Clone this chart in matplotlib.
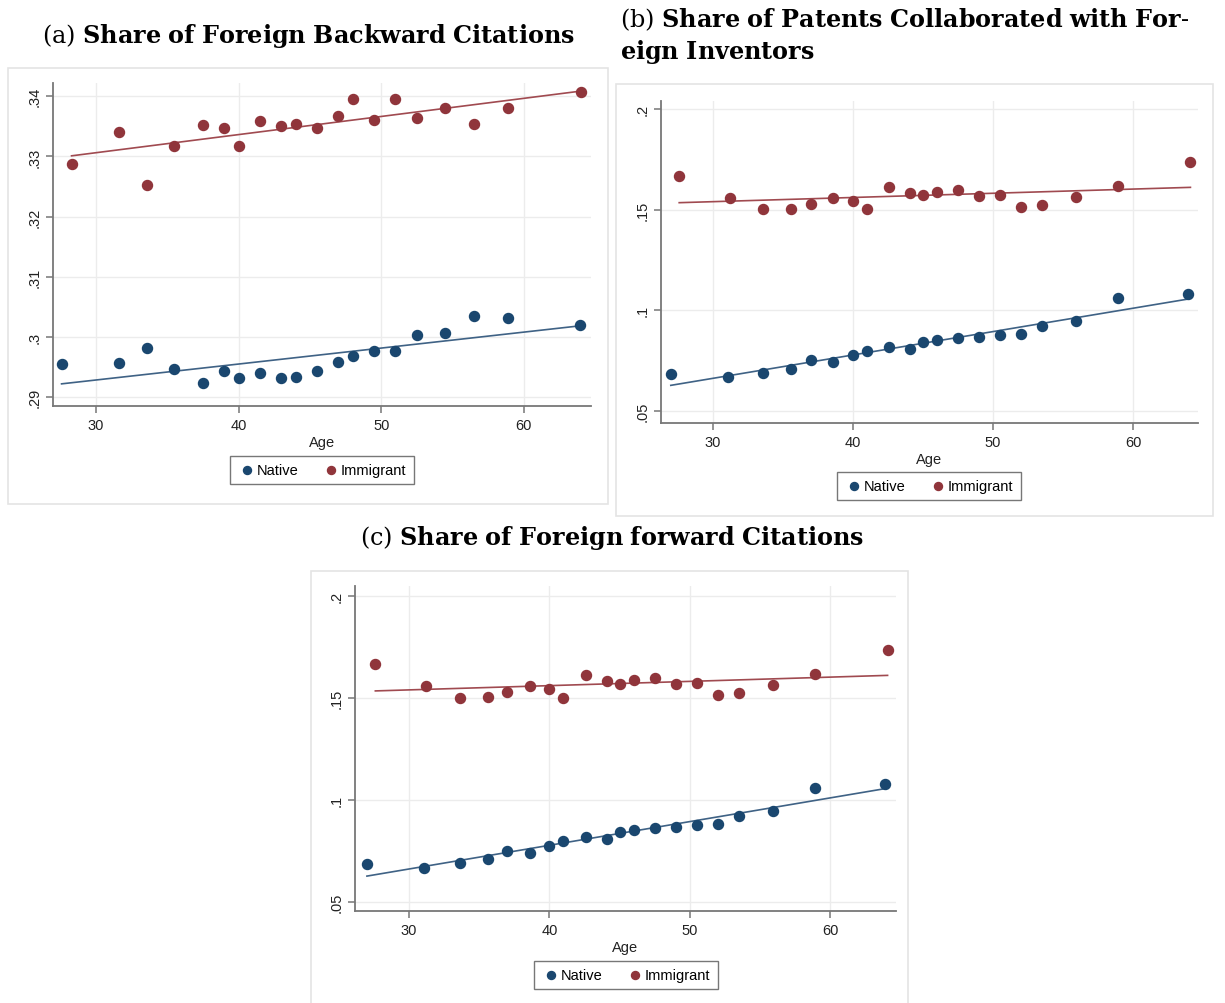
import numpy as np
import matplotlib
matplotlib.use("Agg")
import matplotlib.pyplot as plt
from matplotlib.patches import Rectangle

plt.rcParams['mathtext.fontset'] = 'dejavuserif'
plt.rcParams['font.family'] = ['Liberation Sans', 'DejaVu Sans']

# panel (a) data: foreign backward citations
age_a_nat = [27.6, 31.6, 33.6, 35.5, 37.5, 39.0, 40.0, 41.5, 43.0, 44.0,
             45.5, 47.0, 48.0, 49.5, 51.0, 52.5, 54.5, 56.5, 58.9, 63.9]
share_a_nat = [.2955, .2956, .2982, .2946, .2924, .2944, .2931, .2940, .2932, .2933,
               .2944, .2958, .2968, .2977, .2977, .3003, .3007, .3034, .3032, .3019]
age_a_imm = [28.3, 31.6, 33.6, 35.5, 37.5, 39.0, 40.0, 41.5, 43.0, 44.0,
             45.5, 47.0, 48.0, 49.5, 51.0, 52.5, 54.5, 56.5, 58.9, 64.0]
share_a_imm = [.3287, .3341, .3253, .3317, .3352, .3347, .3318, .3358, .3350, .3354,
               .3347, .3367, .3395, .3361, .3396, .3364, .3381, .3354, .3381, .3407]

# panel (b) data: collaborated with foreign inventors (panel c shows the same values)
age_b_nat = [27.0, 31.1, 33.6, 35.6, 37.0, 38.6, 40.0, 41.0, 42.6, 44.1,
             45.0, 46.0, 47.5, 49.0, 50.5, 52.0, 53.5, 55.9, 58.9, 63.9]
share_b_nat = [.0685, .0668, .0690, .0709, .0751, .0741, .0777, .0800, .0817, .0810,
               .0842, .0853, .0861, .0868, .0877, .0882, .0920, .0947, .1060, .1080]
age_b_imm = [27.6, 31.2, 33.6, 35.6, 37.0, 38.6, 40.0, 41.0, 42.6, 44.1,
             45.0, 46.0, 47.5, 49.0, 50.5, 52.0, 53.5, 55.9, 58.9, 64.1]
share_b_imm = [.1667, .1558, .1502, .1505, .1530, .1560, .1545, .1502, .1611, .1581,
               .1571, .1586, .1596, .1568, .1573, .1515, .1524, .1562, .1616, .1736]

xticks = [30, 40, 50, 60]
yticks_a = [.29, .30, .31, .32, .33, .34]
ylabels_a = ['.29', '.3', '.31', '.32', '.33', '.34']
yticks_b = [.05, .10, .15, .20]
ylabels_b = ['.05', '.1', '.15', '.2']

W, H = 1225, 1004
fig = plt.figure(figsize=(W / 100, H / 100), dpi=100)

NAVY = '#1a476f'
MAROON = '#90353b'


def box(x0, y0, x1, y1):
    return [x0 / W, 1 - y1 / H, (x1 - x0) / W, (y1 - y0) / H]


def panel(frame, axbox, xlim, ylim, yt, ytl, xn, yn, xi, yi, leg_center):
    fr = Rectangle((frame[0] / W, 1 - frame[3] / H), (frame[2] - frame[0]) / W,
                   (frame[3] - frame[1]) / H,
                   transform=fig.transFigure, facecolor='white',
                   edgecolor='#e4e4e4', linewidth=1.2, zorder=-5)
    fig.patches.append(fr)
    ax = fig.add_axes(box(*axbox))
    ax.patch.set_alpha(0)
    ax.set_xlim(xlim)
    ax.set_ylim(ylim)
    ax.set_xticks(xticks)
    ax.set_yticks(yt)
    ax.set_yticklabels(ytl, rotation=90, va='center')
    ax.grid(True, color='#ececec', linewidth=1.0)
    ax.set_axisbelow(True)
    for s in ['top', 'right']:
        ax.spines[s].set_visible(False)
    for s in ['left', 'bottom']:
        ax.spines[s].set_color('#777777')
        ax.spines[s].set_linewidth(1.3)
    ax.tick_params(colors='#777777', labelcolor='#222222', labelsize=10.5,
                   length=5, width=1.1)
    ax.set_xlabel('Age', fontsize=10.5, color='#222222', labelpad=2)

    pn = ax.scatter(xn, yn, s=52, color=NAVY, zorder=3, label='Native')
    pi = ax.scatter(xi, yi, s=52, color=MAROON, zorder=3, label='Immigrant')
    for xs, ys, c in [(xn, yn, '#3f6285'), (xi, yi, '#a04a50')]:
        b1, b0 = np.polyfit(xs, ys, 1)
        xx = np.array([min(xs), max(xs)])
        ax.plot(xx, b0 + b1 * xx, color=c, linewidth=1.2, zorder=2)

    leg = fig.legend(handles=[pn, pi], loc='center', ncol=2,
                     bbox_to_anchor=(leg_center[0] / W, 1 - leg_center[1] / H),
                     fontsize=10.5, frameon=True, fancybox=False, edgecolor='#555555',
                     handletextpad=0.1, columnspacing=1.6, borderpad=0.5,
                     handlelength=1.2, markerscale=0.8)
    leg.get_frame().set_linewidth(1.0)
    return ax


panel((8, 69, 608, 505), (53, 84, 591, 407), (27.0, 64.7), (.2885, .3422),
      yticks_a, ylabels_a, age_a_nat, share_a_nat, age_a_imm, share_a_imm, (322, 471))
panel((616, 85, 1213, 517), (661, 102, 1198, 424), (26.3, 64.64), (.044, .204),
      yticks_b, ylabels_b, age_b_nat, share_b_nat, age_b_imm, share_b_imm, (929, 487))
panel((311, 572, 908, 1010), (355, 587, 896, 912), (26.15, 64.7), (.0456, .2049),
      yticks_b, ylabels_b, age_b_nat, share_b_nat, age_b_imm, share_b_imm, (626, 976))

tsize = 17.2
fig.text(308 / W, 1 - 36 / H, r'$\mathrm{(a)}\ \mathbf{Share\ of\ Foreign\ Backward\ Citations}$',
         ha='center', va='center', fontsize=tsize)
fig.text(620 / W, 1 - 20 / H, r'$\mathrm{(b)}\ \mathbf{Share\ of\ Patents\ Collaborated\ with\ For\text{-}}$',
         ha='left', va='center', fontsize=tsize)
fig.text(620 / W, 1 - 52 / H, r'$\mathbf{eign\ Inventors}$',
         ha='left', va='center', fontsize=tsize)
fig.text(612 / W, 1 - 538 / H, r'$\mathrm{(c)}\ \mathbf{Share\ of\ Foreign\ forward\ Citations}$',
         ha='center', va='center', fontsize=tsize)

fig.savefig('out.png', dpi=100)
